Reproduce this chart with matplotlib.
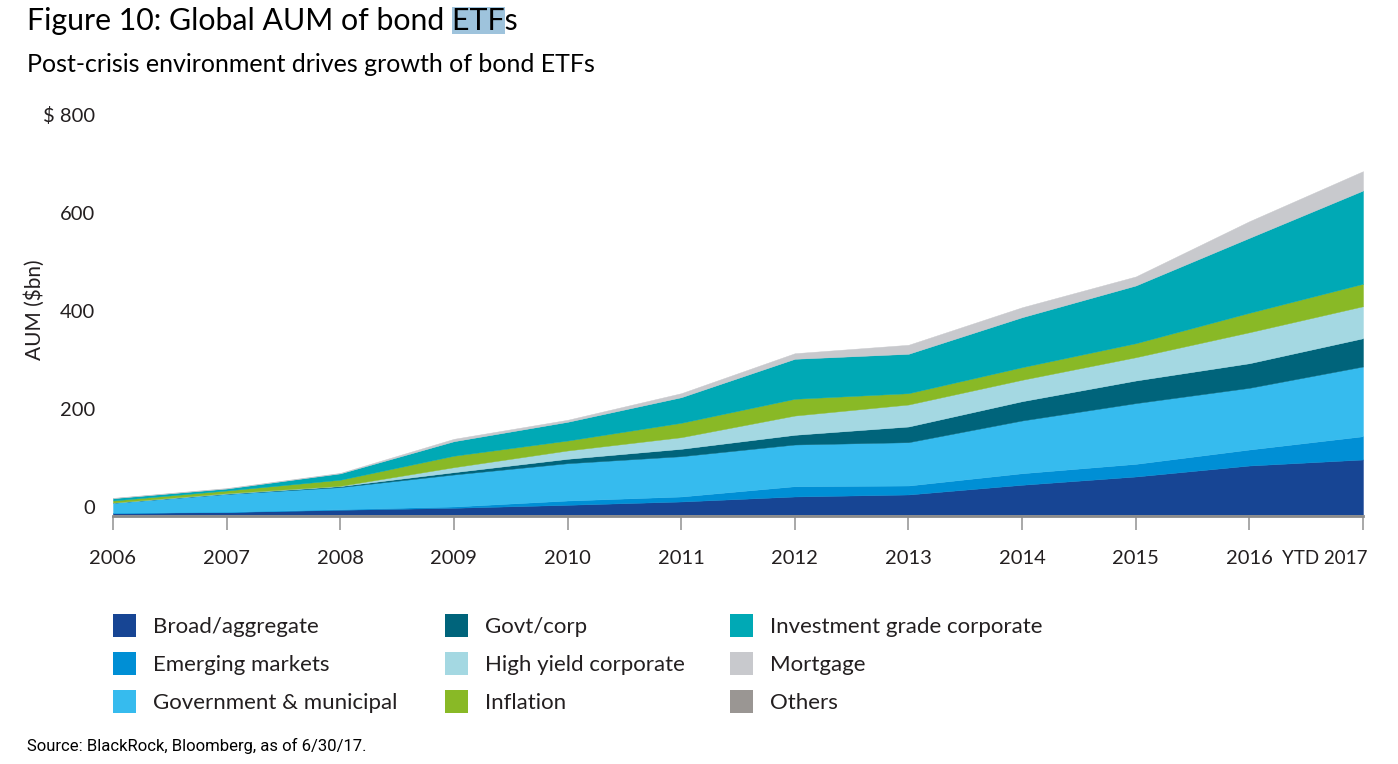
import matplotlib
matplotlib.use("Agg")
import matplotlib.pyplot as plt
import matplotlib.transforms as mtransforms
from matplotlib.patches import Rectangle

plt.rcParams['font.family'] = ['Lato', 'DejaVu Sans']

# =========================================================
# DADOS (AUM em $bn)
# =========================================================
anos = ["2006", "2007", "2008", "2009", "2010", "2011",
        "2012", "2013", "2014", "2015", "2016", "YTD 2017"]

others = [2, 2, 2, 2, 2, 2, 2, 2, 2, 2, 2, 2]
broad = [3, 5, 9.6, 13.7, 19.8, 26.6, 36.8, 40.9, 60.7, 77.6, 100, 112.3]
emerging = [0.5, 0.5, 1.4, 2.7, 8.8, 10.2, 21, 18.3, 23.6, 25.8, 32.7, 47.5]
gov_muni = [20.5, 36.5, 45, 65.3, 76.1, 82.2, 85.1, 88.4, 107.6, 123.9, 125.9, 142.3]
govt_corp = [0, 0.5, 2, 4.7, 9, 15.1, 19.8, 32, 39.4, 46.2, 50.2, 57.7]
high_yield = [0.5, 1, 0.6, 10.2, 17, 23.7, 39.3, 44.9, 43.7, 47.5, 63.2, 65.3]
inflation = [4.1, 5.5, 12.4, 23.4, 20.3, 29.4, 34.2, 23.1, 25.7, 28.6, 39.7, 45.8]
inv_grade = [4.7, 4, 13, 29.6, 38.2, 52.2, 81.6, 80.4, 102, 117.8, 153, 190.4]
mortgage = [0.7, 1, 1, 4.9, 4.1, 8.2, 11.4, 18.4, 20.3, 18.4, 33.9, 39.4]

y_ticks = [0, 200, 400, 600, 800]
y_tick_labels = ["0", "200", "400", "600", "$ 800"]

# ordem da legenda (colunas)
legenda = ["Broad/aggregate", "Emerging markets", "Government & municipal",
           "Govt/corp", "High yield corporate", "Inflation",
           "Investment grade corporate", "Mortgage", "Others"]

cores = {
    "Broad/aggregate": "#174594",
    "Emerging markets": "#008fd5",
    "Government & municipal": "#36bbee",
    "Govt/corp": "#00647b",
    "High yield corporate": "#a4d8e2",
    "Inflation": "#89b926",
    "Investment grade corporate": "#00a9b5",
    "Mortgage": "#c8c9cd",
    "Others": "#9a9693",
}

# =========================================================
# FIGURA
# =========================================================
W, H = 1398, 764
fig = plt.figure(figsize=(W / 100, H / 100), dpi=100)
ax = fig.add_axes([113 / W, 1 - 515.5 / H, 1250 / W, 392 / H])

x = list(range(len(anos)))
series = [others, broad, emerging, gov_muni, govt_corp,
          high_yield, inflation, inv_grade, mortgage]
nomes = ["Others", "Broad/aggregate", "Emerging markets", "Government & municipal",
         "Govt/corp", "High yield corporate", "Inflation",
         "Investment grade corporate", "Mortgage"]

ax.stackplot(x, *series, colors=[cores[n] for n in nomes],
             edgecolor="face", linewidth=0.3)

ax.set_xlim(0, len(anos) - 1)
ax.set_ylim(0, 800)

for lado in ["top", "right", "left"]:
    ax.spines[lado].set_visible(False)
ax.spines["bottom"].set_color("#8a8a8a")
ax.spines["bottom"].set_linewidth(2)

ax.set_xticks(x)
ax.set_xticklabels(anos, fontsize=14.5, color="#231f20")
ax.tick_params(axis="x", length=10, width=1.2, color="#9a9a9a", pad=15)
ultimo = ax.get_xticklabels()[-1]
ultimo.set_ha("right")
ultimo.set_fontsize(13.5)
ultimo.set_transform(ultimo.get_transform() +
                     mtransforms.ScaledTranslation(0.05, 0, fig.dpi_scale_trans))

ax.set_yticks(y_ticks)
ax.set_yticklabels(y_tick_labels, fontsize=14.5, color="#231f20")
ax.tick_params(axis="y", length=0, pad=13)
deslocamento = mtransforms.ScaledTranslation(0, 0.09, fig.dpi_scale_trans)
for rotulo in ax.get_yticklabels():
    rotulo.set_transform(rotulo.get_transform() + deslocamento)

fig.text(35 / W, 1 - 310 / H, "AUM ($bn)", rotation=90, fontsize=15,
         ha="center", va="center", color="#231f20")

# =========================================================
# TÍTULOS
# =========================================================
titulo = "Figure 10: Global AUM of bond ETFs"
t = fig.text(27 / W, 1 - 21 / H, titulo, fontsize=21.8, ha="left", va="center",
             color="#000000", zorder=3)

renderer = fig.canvas.get_renderer()


def largura(texto):
    tmp = fig.text(0, 0, texto, fontsize=21.8)
    w = tmp.get_window_extent(renderer).width
    tmp.remove()
    return w


x0 = 27 + largura("Figure 10: Global AUM of bond E") - largura("E")
x1 = 27 + largura("Figure 10: Global AUM of bond ETF")
fig.patches.append(Rectangle((x0 / W, 1 - 34 / H), (x1 - x0) / W, 27 / H,
                             transform=fig.transFigure, facecolor="#9ec3dc",
                             edgecolor="none", zorder=1))

fig.text(27 / W, 1 - 64 / H, "Post-crisis environment drives growth of bond ETFs",
         fontsize=18, ha="left", va="center", color="#000000")

# =========================================================
# LEGENDA
# =========================================================
col_x = [113, 445, 730]
lin_y = [626, 664, 702]
for i, nome in enumerate(legenda):
    c, r = i // 3, i % 3
    fig.patches.append(Rectangle((col_x[c] / W, 1 - (lin_y[r] + 11) / H), 23 / W, 23 / H,
                                 transform=fig.transFigure, facecolor=cores[nome],
                                 edgecolor="none"))
    fig.text((col_x[c] + 40) / W, 1 - (lin_y[r] + 1) / H, nome, fontsize=16,
             ha="left", va="center", color="#231f20")

fig.text(27 / W, 1 - 746 / H, "Source: BlackRock, Bloomberg, as of 6/30/17.",
         fontsize=12, ha="left", va="center", color="#000000",
         family=["Liberation Sans Narrow", "Roboto", "DejaVu Sans"], stretch="condensed")

fig.savefig("out.png", dpi=100)
plt.close()
